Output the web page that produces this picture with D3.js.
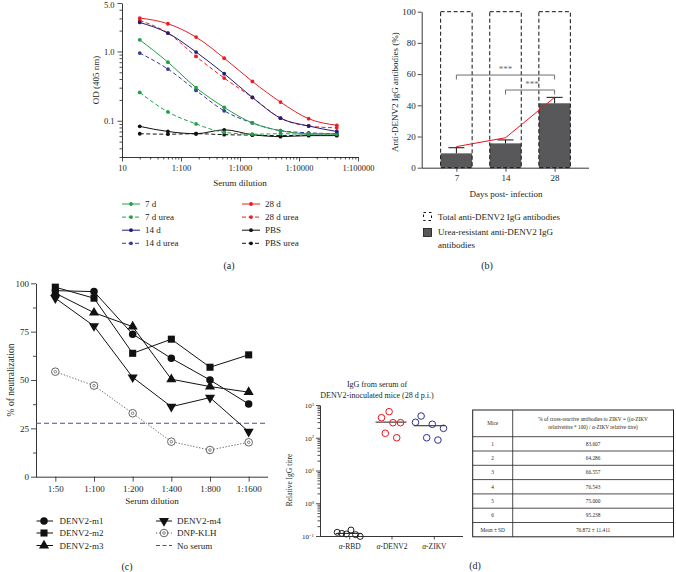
<!DOCTYPE html>
<html><head><meta charset="utf-8">
<script src="https://cdn.jsdelivr.net/npm/d3@7"></script>
<style>
body{margin:0;background:#fff}
svg{display:block}
text{font-family:"Liberation Serif","Times New Roman",serif;fill:#231f20}
</style>
</head><body>
<svg id="c" width="676" height="572"></svg>
<script>
// ---------------- Panel (a) data ----------------
const dilutionsA = [20, 60, 180, 540, 1620, 4860, 14580, 43740];
const od7d      = [1.47, 0.70, 0.30, 0.156, 0.093, 0.072, 0.065, 0.065];
const od7dUrea  = [0.256, 0.134, 0.090, 0.068, 0.064, 0.065, 0.064, 0.064];
const od14d     = [2.62, 1.84, 0.98, 0.477, 0.217, 0.109, 0.084, 0.070];
const od14dUrea = [0.948, 0.557, 0.274, 0.139, 0.093, 0.072, 0.067, 0.065];
const od28d     = [3.03, 2.51, 1.61, 0.80, 0.369, 0.186, 0.107, 0.086];
const od28dUrea = [2.80, 1.84, 0.847, 0.413, 0.217, 0.109, 0.084, 0.079];
const odPBS     = [0.083, 0.070, 0.065, 0.074, 0.063, 0.059, 0.061, 0.061];
const odPBSUrea = [0.065, 0.064, 0.065, 0.063, 0.062, 0.061, 0.062, 0.062];
const xTicksA = [10, 100, 1000, 10000, 100000];
const xTickLabelsA = ["10", "1:100", "1:1000", "1:10000", "1:100000"];
const yTicksA = [0.1, 1, 5];
const yTickLabelsA = ["0.1", "1.0", "5.0"];
const seriesNamesA = ["7 d", "7 d urea", "14 d", "14 d urea", "28 d", "28 d urea", "PBS", "PBS urea"];

// ---------------- Panel (b) data ----------------
const daysB = ["7", "14", "28"];
const totalPctB = [100, 100, 100];
const ureaPctB = [9.2, 15.6, 41.3];
const ureaErrB = [3.6, 2.2, 3.8];
const trendB = [13.5, 19.2, 45.1];
const bracketsB = [["7", "28", 59.4, "***"], ["14", "28", 49.8, "***"]];
const yTicksB = [0, 20, 40, 60, 80, 100];
const legendB = ["Total anti-DENV2 IgG antibodies", "Urea-resistant anti-DENV2 IgG", "antibodies"];

// ---------------- Panel (c) data ----------------
const dilutionsC = ["1:50", "1:100", "1:200", "1:400", "1:800", "1:1600"];
const neutM1 = [96.2, 95.7, 73.7, 61.2, 50.0, 37.6];
const neutM2 = [98.0, 92.3, 63.8, 71.1, 56.6, 63.0];
const neutM3 = [94.9, 84.8, 77.6, 50.4, 46.6, 43.7];
const neutM4 = [92.3, 77.9, 51.4, 36.2, 40.9, 23.3];
const neutDNP = [54.3, 47.1, 32.8, 18.1, 13.8, 17.8];
const noSerumC = 27.6;
const yTicksC = [0, 25, 50, 75, 100];
const seriesNamesC = ["DENV2-m1", "DENV2-m2", "DENV2-m3", "DENV2-m4", "DNP-KLH", "No serum"];

// ---------------- Panel (d) data ----------------
const groupsD = ["RBD", "DENV2", "ZIKV"];
const titreRBD = [0.13, 0.12, 0.115, 0.152, 0.11, 0.097];
const titreDENV2 = [409, 137, 624, 288, 100, 288];
const titreZIKV = [296, 461, 100, 258, 85, 194];
const medianD = [0.12, 300, 233];
const yTicksD = [0.1, 1, 10, 100, 1000];
const yExpD = ["−1", "0", "1", "2", "3"];
const tableHead = ["Mice", "% of cross-reactive antibodies to ZIKV = ((α-ZIKV", "relativetitre * 100) / α-ZIKV relative titre)"];
const tableMice = ["1", "2", "3", "4", "5", "6", "Mean ± SD"];
const tableCross = ["83.607", "64.286", "66.557", "76.543", "75.000", "95.238", "76.872 ± 11.411"];

// ---------------- helpers ----------------
const INK = "#231f20";
const svg = d3.select("#c");
svg.append("rect").attr("width", 676).attr("height", 572).attr("fill", "#fff");

function styleAxis(g, fs) {
  g.attr("font-size", fs).attr("font-family", null);
  g.selectAll("path.domain").attr("stroke", INK).attr("stroke-width", 0.9);
  g.selectAll(".tick line").attr("stroke", INK).attr("stroke-width", 0.8);
  g.selectAll(".tick text").attr("fill", INK);
}
const isMajor = (v, majors) => majors.some(m => Math.abs(v - m) / m < 1e-6);
function label(g, txt, x, y, fs, opts = {}) {
  const t = g.append("text").attr("x", x).attr("y", y).attr("font-size", fs)
    .attr("text-anchor", opts.anchor || "middle").attr("dy", "0.35em").text(txt);
  if (opts.rotate) t.attr("transform", `rotate(-90,${x},${y})`);
  if (opts.fill) t.style("fill", opts.fill);
  return t;
}

// =============== Panel (a) ===============
{
  const g = svg.append("g");
  const x = d3.scaleLog().domain([10, 100000]).range([122, 358]);
  const y = d3.scaleLog().domain([0.03, 5]).range([157, 3]);
  const minorX = x.ticks().filter(v => !isMajor(v, xTicksA));
  const minorY = y.ticks().filter(v => !isMajor(v, yTicksA));
  g.append("g").attr("transform", "translate(0,157)")
    .call(d3.axisBottom(x).tickValues(minorX).tickSize(2.5).tickSizeOuter(0).tickFormat(""))
    .call(a => a.select(".domain").remove()).call(a => styleAxis(a, 8));
  g.append("g").attr("transform", "translate(0,157)")
    .call(d3.axisBottom(x).tickValues(xTicksA).tickSize(4.5).tickSizeOuter(0).tickPadding(3).tickFormat((d, i) => xTickLabelsA[i]))
    .call(a => styleAxis(a, 8.5));
  g.append("g").attr("transform", "translate(122,0)")
    .call(d3.axisLeft(y).tickValues(minorY).tickSize(2.5).tickSizeOuter(0).tickFormat(""))
    .call(a => a.select(".domain").remove()).call(a => styleAxis(a, 8));
  g.append("g").attr("transform", "translate(122,0)")
    .call(d3.axisLeft(y).tickValues(yTicksA).tickSize(4.5).tickSizeOuter(0).tickPadding(3).tickFormat((d, i) => yTickLabelsA[i]))
    .call(a => styleAxis(a, 8.5))
    .call(a => a.selectAll(".tick text").filter(d => d === 5).attr("dy", "0.55em"));
  label(g, "OD (405 nm)", 96, 80, 9, { rotate: true });
  label(g, "Serum dilution", 240, 183, 9);

  const GREEN = "#23a047", NAVY = "#1d1f78", NAVY2 = "#363b98", RED = "#ec1c24", BLACK = "#111";
  const series = [
    { name: seriesNamesA[6], v: odPBS, c: BLACK, dash: false },
    { name: seriesNamesA[7], v: odPBSUrea, c: BLACK, dash: true },
    { name: seriesNamesA[1], v: od7dUrea, c: GREEN, dash: true },
    { name: seriesNamesA[3], v: od14dUrea, c: NAVY2, dash: true },
    { name: seriesNamesA[5], v: od28dUrea, c: RED, dash: true },
    { name: seriesNamesA[0], v: od7d, c: GREEN, dash: false },
    { name: seriesNamesA[2], v: od14d, c: NAVY, dash: false },
    { name: seriesNamesA[4], v: od28d, c: RED, dash: false },
  ];
  const line = d3.line().x((d, i) => x(dilutionsA[i])).y(d => y(d)).curve(d3.curveMonotoneX);
  series.forEach(s => {
    g.append("path").attr("d", line(s.v)).attr("fill", "none").attr("stroke", s.c)
      .attr("stroke-width", 1).attr("stroke-dasharray", s.dash ? "4,2.5" : null);
    g.selectAll(null).data(s.v).join("circle").attr("cx", (d, i) => x(dilutionsA[i])).attr("cy", d => y(d))
      .attr("r", 1.9).attr("fill", s.c);
  });
  // legend
  const legOrder = [[seriesNamesA[0], GREEN, false], [seriesNamesA[1], GREEN, true], [seriesNamesA[2], NAVY, false], [seriesNamesA[3], NAVY2, true],
                    [seriesNamesA[4], RED, false], [seriesNamesA[5], RED, true], [seriesNamesA[6], BLACK, false], [seriesNamesA[7], BLACK, true]];
  legOrder.forEach((e, k) => {
    const col = Math.floor(k / 4), row = k % 4;
    const lx = col ? 242 : 122, ly = 204 + row * 13.1;
    g.append("line").attr("x1", lx).attr("x2", lx + 18).attr("y1", ly).attr("y2", ly)
      .attr("stroke", e[1]).attr("stroke-width", 1).attr("stroke-dasharray", e[2] ? "4,2.5" : null);
    g.append("circle").attr("cx", lx + 9).attr("cy", ly).attr("r", 1.9).attr("fill", e[1]);
    label(g, e[0], lx + 23, ly, 9, { anchor: "start" });
  });
  label(g, "(a)", 229, 265, 10);
}

// =============== Panel (b) ===============
{
  const g = svg.append("g");
  const x = d3.scalePoint().domain(daysB).range([422, 589]).padding(0.7);
  const y = d3.scaleLinear().domain([0, 100]).range([167.7, 11.7]);
  const bw = 31.5;
  const GRAY = "#58585b";
  daysB.forEach((d, i) => {
    g.append("rect").attr("x", x(d) - bw / 2).attr("width", bw).attr("y", y(ureaPctB[i]))
      .attr("height", y(0) - y(ureaPctB[i])).attr("fill", GRAY);
    g.append("rect").attr("x", x(d) - bw / 2).attr("width", bw).attr("y", y(totalPctB[i]))
      .attr("height", y(0) - y(totalPctB[i])).attr("fill", "none").attr("stroke", "#111")
      .attr("stroke-width", 1).attr("stroke-dasharray", "4,2.5");
    const top = y(ureaPctB[i] + ureaErrB[i]);
    g.append("line").attr("x1", x(d)).attr("x2", x(d)).attr("y1", y(ureaPctB[i])).attr("y2", top).attr("stroke", "#111").attr("stroke-width", 1);
    g.append("line").attr("x1", x(d) - 8).attr("x2", x(d) + 8).attr("y1", top).attr("y2", top).attr("stroke", "#111").attr("stroke-width", 1);
  });
  g.append("path").attr("d", d3.line().x((v, i) => x(daysB[i])).y(v => y(v))(trendB))
    .attr("fill", "none").attr("stroke", "#e8141b").attr("stroke-width", 1);
  bracketsB.forEach(b => {
    const x1 = x(b[0]), x2 = x(b[1]), yy = y(b[2]);
    g.append("path").attr("d", `M${x1},${yy + 4.5}V${yy}H${x2}V${yy + 4.5}`).attr("fill", "none")
      .attr("stroke", "#6d6e70").attr("stroke-width", 1);
    label(g, b[3], (x1 + x2) / 2 + (b[0] === "14" ? 2 : 0), yy - 6.5, 9, { fill: "#6d6e70" });
  });
  g.append("g").attr("transform", "translate(0,167.7)")
    .call(d3.axisBottom(x).tickSize(4).tickSizeOuter(0).tickPadding(3))
    .call(a => a.select(".domain").attr("d", "M422,0.5H589"))
    .call(a => styleAxis(a, 9));
  g.append("g").attr("transform", "translate(421.7,0)")
    .call(d3.axisLeft(y).tickValues(yTicksB).tickSize(4).tickSizeOuter(0).tickPadding(2))
    .call(a => styleAxis(a, 9));
  label(g, "Anti-DENV2 IgG antibodies (%)", 395, 92, 9, { rotate: true });
  label(g, "Days post- infection", 506, 194, 9);
  // legend
  g.append("rect").attr("x", 423.5).attr("y", 212.5).attr("width", 8).attr("height", 8)
    .attr("fill", "none").attr("stroke", "#111").attr("stroke-width", 1).attr("stroke-dasharray", "2.5,3");
  g.append("rect").attr("x", 423.5).attr("y", 228.5).attr("width", 8).attr("height", 8)
    .attr("fill", GRAY).attr("stroke", "#111").attr("stroke-width", 0.8);
  label(g, legendB[0], 438, 216.5, 9, { anchor: "start" });
  label(g, legendB[1], 438, 232, 9, { anchor: "start" });
  label(g, legendB[2], 438, 244.5, 9, { anchor: "start" });
  label(g, "(b)", 487, 265, 10);
}

// =============== Panel (c) ===============
{
  const g = svg.append("g");
  const x = d3.scalePoint().domain(dilutionsC).range([36, 268]).padding(0.5);
  const y = d3.scaleLinear().domain([0, 100]).range([476.7, 283.3]);
  g.append("g").attr("transform", "translate(36,0)")
    .call(d3.axisLeft(y).tickValues([12.5, 37.5, 62.5, 87.5]).tickSize(3).tickSizeOuter(0).tickFormat(""))
    .call(a => a.select(".domain").remove()).call(a => styleAxis(a, 9));
  g.append("g").attr("transform", "translate(36,0)")
    .call(d3.axisLeft(y).tickValues(yTicksC).tickSize(5).tickSizeOuter(0).tickPadding(2))
    .call(a => styleAxis(a, 9));
  g.append("g").attr("transform", "translate(0,476.7)")
    .call(d3.axisBottom(x).tickSize(5).tickSizeOuter(0).tickPadding(4))
    .call(a => a.select(".domain").attr("d", "M36,0.5H268"))
    .call(a => styleAxis(a, 9));
  label(g, "% of neutralization", 11, 380, 9.5, { rotate: true });
  label(g, "Serum dilution", 152, 501, 9);

  const NS = "#4b4f9c";
  g.append("line").attr("x1", 36).attr("x2", 268).attr("y1", y(noSerumC)).attr("y2", y(noSerumC))
    .attr("stroke", NS).attr("stroke-width", 1.1).attr("stroke-dasharray", "5,3");

  const line = d3.line().x((d, i) => x(dilutionsC[i])).y(d => y(d));
  const sym = [
    d3.symbol(d3.symbolCircle, 44)(),
    d3.symbol(d3.symbolSquare, 50)(),
    d3.symbol(d3.symbolTriangle, 44)(),
    d3.symbol(d3.symbolTriangle, 44)()
  ];
  // DNP-KLH
  g.append("path").attr("d", line(neutDNP)).attr("fill", "none").attr("stroke", "#555").attr("stroke-width", 0.9).attr("stroke-dasharray", "1.3,1.7");
  const drawOpen = (cx, cy) => {
    g.append("circle").attr("cx", cx).attr("cy", cy).attr("r", 3.8).attr("fill", "#fff").attr("stroke", "#555").attr("stroke-width", 0.9);
    g.append("circle").attr("cx", cx).attr("cy", cy).attr("r", 1.3).attr("fill", "none").attr("stroke", "#555").attr("stroke-width", 0.7);
  };
  neutDNP.forEach((v, i) => drawOpen(x(dilutionsC[i]), y(v)));
  const sets = [neutM4, neutM3, neutM2, neutM1];
  const symIdx = [3, 2, 1, 0];
  sets.forEach((s, k) => {
    g.append("path").attr("d", line(s)).attr("fill", "none").attr("stroke", "#111").attr("stroke-width", 1);
  });
  sets.forEach((s, k) => {
    const si = symIdx[k];
    s.forEach((v, i) => {
      g.append("path").attr("d", sym[si]).attr("fill", "#111")
        .attr("transform", `translate(${x(dilutionsC[i])},${y(v)})${si === 3 ? " rotate(180)" : ""}`);
    });
  });
  // legend
  const rows = [521, 533, 545.5];
  for (let k = 0; k < 3; k++) {
    g.append("line").attr("x1", 36.5).attr("x2", 53).attr("y1", rows[k]).attr("y2", rows[k]).attr("stroke", "#111").attr("stroke-width", 1);
    g.append("path").attr("d", sym[k]).attr("fill", "#111").attr("transform", `translate(44,${rows[k]})`);
    label(g, seriesNamesC[k], 59.5, rows[k], 9, { anchor: "start" });
  }
  g.append("line").attr("x1", 156).attr("x2", 172).attr("y1", rows[0]).attr("y2", rows[0]).attr("stroke", "#111").attr("stroke-width", 1);
  g.append("path").attr("d", sym[3]).attr("fill", "#111").attr("transform", `translate(164,${rows[0]}) rotate(180)`);
  label(g, seriesNamesC[3], 177, rows[0], 9, { anchor: "start" });
  g.append("line").attr("x1", 156).attr("x2", 172).attr("y1", rows[1]).attr("y2", rows[1]).attr("stroke", "#555").attr("stroke-width", 0.9).attr("stroke-dasharray", "1.3,1.7");
  drawOpen(164, rows[1]);
  label(g, seriesNamesC[4], 177, rows[1], 9, { anchor: "start" });
  g.append("line").attr("x1", 156).attr("x2", 172).attr("y1", rows[2]).attr("y2", rows[2]).attr("stroke", NS).attr("stroke-width", 1.1).attr("stroke-dasharray", "4,2.5");
  label(g, seriesNamesC[5], 177, rows[2], 9, { anchor: "start" });
  label(g, "(c)", 127, 566.5, 10);
}

// =============== Panel (d) ===============
{
  const g = svg.append("g");
  const x = d3.scalePoint().domain(groupsD).range([320, 463]).padding(0.69);
  const y = d3.scaleLog().domain([0.1, 1000]).range([536, 405]);
  const minorY = y.ticks().filter(v => !isMajor(v, yTicksD));
  g.append("g").attr("transform", "translate(320,0)")
    .call(d3.axisLeft(y).tickValues(minorY).tickSize(2.5).tickSizeOuter(0).tickFormat(""))
    .call(a => a.select(".domain").remove()).call(a => styleAxis(a, 7));
  g.append("g").attr("transform", "translate(320,0)")
    .call(d3.axisLeft(y).tickValues(yTicksD).tickSize(4).tickSizeOuter(0).tickPadding(2).tickFormat(""))
    .call(a => styleAxis(a, 7))
    .call(a => a.selectAll(".tick").each(function (d, i) {
      const t = d3.select(this).select("text").text("10");
      t.append("tspan").attr("dy", "-0.45em").attr("font-size", "0.68em").text(yExpD[i]);
    }));
  g.append("g").attr("transform", "translate(0,536)")
    .call(d3.axisBottom(x).tickSize(3.5).tickSizeOuter(0).tickPadding(4).tickFormat(""))
    .call(a => a.select(".domain").attr("d", "M320,0.5H463"))
    .call(a => styleAxis(a, 7.5))
    .call(a => a.selectAll(".tick").each(function (d) {
      const t = d3.select(this).select("text");
      t.append("tspan").attr("font-style", "italic").text("α");
      t.append("tspan").text("-" + d);
    }));
  label(g, "Relative IgG titre", 289, 480, 7.5, { rotate: true });
  label(g, "IgG from serum of", 377, 384, 8);
  label(g, "DENV2-inoculated mice (28 d p.i.)", 377, 395.5, 8);

  const sets = [titreRBD, titreDENV2, titreZIKV];
  const cols = ["#231f20", "#e8141b", "#2e3192"];
  const spread = [4.6, 3.8, 5.6];
  const shift = [-0.5, -0.5, -4.3];
  sets.forEach((s, k) => {
    const cx0 = x(groupsD[k]) + shift[k];
    const halfLen = k === 0 ? 13 : 15.5;
    g.append("line").attr("x1", cx0 - halfLen).attr("x2", cx0 + halfLen).attr("y1", y(medianD[k])).attr("y2", y(medianD[k]))
      .attr("stroke", "#231f20").attr("stroke-width", 1);
    s.forEach((v, i) => {
      g.append("circle").attr("cx", cx0 + (i - 2.5) * spread[k]).attr("cy", y(v))
        .attr("r", k === 0 ? 3 : 3.3).attr("fill", "none").attr("stroke", cols[k]).attr("stroke-width", 1);
    });
  });

  // table
  const tl = 472.7, tr = 673.5, tt = 410, hb = 436.7, rh = 14.3, cd = 512.7;
  const tb = hb + rh * tableMice.length;
  const tg = g.append("g");
  tg.append("rect").attr("x", tl).attr("y", tt).attr("width", tr - tl).attr("height", tb - tt)
    .attr("fill", "none").attr("stroke", "#231f20").attr("stroke-width", 1);
  tg.append("line").attr("x1", cd).attr("x2", cd).attr("y1", tt).attr("y2", tb).attr("stroke", "#231f20").attr("stroke-width", 0.8);
  for (let r = 0; r < tableMice.length; r++) {
    const yy = hb + r * rh;
    tg.append("line").attr("x1", tl).attr("x2", tr).attr("y1", yy).attr("y2", yy).attr("stroke", "#231f20").attr("stroke-width", 0.8);
    label(tg, tableMice[r], (tl + cd) / 2, yy + rh / 2, 5.3);
    label(tg, tableCross[r], (cd + tr) / 2, yy + rh / 2, 5.3);
  }
  label(tg, tableHead[0], (tl + cd) / 2, (tt + hb) / 2, 5.3);
  label(tg, tableHead[1], (cd + tr) / 2, 419.3, 5.3);
  label(tg, tableHead[2], (cd + tr) / 2, 426.8, 5.3);
  label(g, "(d)", 475, 565, 10);
}
</script>
</body></html>
